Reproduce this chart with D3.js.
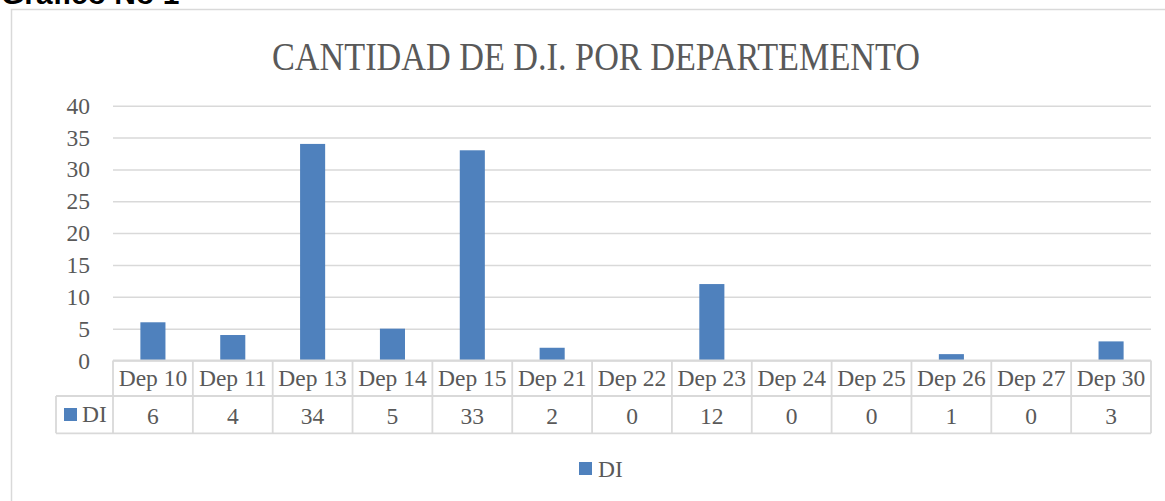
<!DOCTYPE html>
<html>
<head>
<meta charset="utf-8">
<script src="https://cdn.jsdelivr.net/npm/d3@7"></script>
<style>
  html, body { margin: 0; padding: 0; background: #fff; }
  svg { display: block; }
  text { font-family: "Liberation Serif", "DejaVu Serif", serif; fill: #595959; }
</style>
</head>
<body>
<svg id="chart" width="1165" height="501"></svg>
<script>
const categories = ["Dep 10","Dep 11","Dep 13","Dep 14","Dep 15","Dep 21","Dep 22","Dep 23","Dep 24","Dep 25","Dep 26","Dep 27","Dep 30"];
const seriesName = "DI";
const values = [6, 4, 34, 5, 33, 2, 0, 12, 0, 0, 1, 0, 3];
const yTicks = [0, 5, 10, 15, 20, 25, 30, 35, 40];
const titleText = "CANTIDAD DE D.I. POR DEPARTEMENTO";
const captionText = "Gráfico No 1";

const svg = d3.select("#chart");
const W = 1165, H = 501;
const plot = { left: 113, right: 1151, top: 105.7, bottom: 360.5 };
const gridColor = "#d9d9d9";
const barColor = "#4f81bd";
const fs = 23.5;

// Caption (cut off at top, as in the reference)
svg.append("text")
  .attr("x", 1).attr("y", 4)
  .style("font-family", "'Liberation Sans', Arial, sans-serif")
  .style("font-weight", "bold")
  .style("font-size", "30px")
  .style("fill", "#000")
  .text(captionText);

// Chart frame
svg.append("path")
  .attr("d", `M11.5,${H} V9.5 H${W}`)
  .attr("fill", "none")
  .attr("stroke", gridColor)
  .attr("stroke-width", 1.5);

// Title
svg.append("text")
  .attr("x", 272).attr("y", 70)
  .attr("textLength", 648)
  .attr("lengthAdjust", "spacingAndGlyphs")
  .style("font-size", "40px")
  .text(titleText);

const y = d3.scaleLinear().domain([0, 40]).range([plot.bottom, plot.top]);
const xCell = d3.scaleBand().domain(categories).range([plot.left, plot.right]).padding(0);
const xBar = d3.scaleBand().domain(categories).range([plot.left, plot.right])
  .paddingInner(0.686).paddingOuter(0.343);

// Y axis with gridlines
const yAxis = d3.axisLeft(y).tickValues(yTicks).tickSize(-(plot.right - plot.left)).tickPadding(23);
const gy = svg.append("g").attr("transform", `translate(${plot.left},0)`).call(yAxis);
gy.select(".domain").remove();
gy.selectAll(".tick line").attr("stroke", gridColor).attr("stroke-width", 1.5);
gy.selectAll(".tick text")
  .style("font-size", fs + "px")
  .style("font-family", "'Liberation Serif', serif")
  .attr("fill", "#595959");

// Bars
svg.append("g").selectAll("rect")
  .data(values)
  .join("rect")
  .attr("x", (d, i) => xBar(categories[i]))
  .attr("width", xBar.bandwidth())
  .attr("y", d => y(d))
  .attr("height", d => y(0) - y(d))
  .attr("fill", barColor);

// Data table
const rowTop = plot.bottom, rowMid = 396, rowBot = 433.3, tableLeft = 56;
const tg = svg.append("g").attr("stroke", gridColor).attr("stroke-width", 1.8).attr("fill", "none");
tg.append("line").attr("x1", plot.left).attr("x2", plot.right).attr("y1", rowTop).attr("y2", rowTop);
tg.append("line").attr("x1", tableLeft).attr("x2", plot.right).attr("y1", rowMid).attr("y2", rowMid);
tg.append("line").attr("x1", tableLeft).attr("x2", plot.right).attr("y1", rowBot).attr("y2", rowBot);
tg.append("line").attr("x1", tableLeft).attr("x2", tableLeft).attr("y1", rowMid).attr("y2", rowBot);
const bounds = categories.map(c => xCell(c)).concat([plot.right]);
tg.selectAll("line.v").data(bounds).join("line").attr("class", "v")
  .attr("x1", d => d).attr("x2", d => d).attr("y1", rowTop).attr("y2", rowBot);

svg.append("g").selectAll("text")
  .data(categories)
  .join("text")
  .attr("x", d => xCell(d) + xCell.bandwidth() / 2)
  .attr("y", 386)
  .attr("text-anchor", "middle")
  .style("font-size", fs + "px")
  .text(d => d);

svg.append("g").selectAll("text")
  .data(values)
  .join("text")
  .attr("x", (d, i) => xCell(categories[i]) + xCell.bandwidth() / 2)
  .attr("y", 424)
  .attr("text-anchor", "middle")
  .style("font-size", fs + "px")
  .text(d => d);

// Table legend key
svg.append("rect").attr("x", 64).attr("y", 408).attr("width", 13).attr("height", 13).attr("fill", barColor);
svg.append("text").attr("x", 82).attr("y", 422).style("font-size", fs + "px").text(seriesName);

// Bottom legend
svg.append("rect").attr("x", 579).attr("y", 462).attr("width", 13).attr("height", 13).attr("fill", barColor);
svg.append("text").attr("x", 598).attr("y", 476.5).style("font-size", fs + "px").text(seriesName);
</script>
</body>
</html>
